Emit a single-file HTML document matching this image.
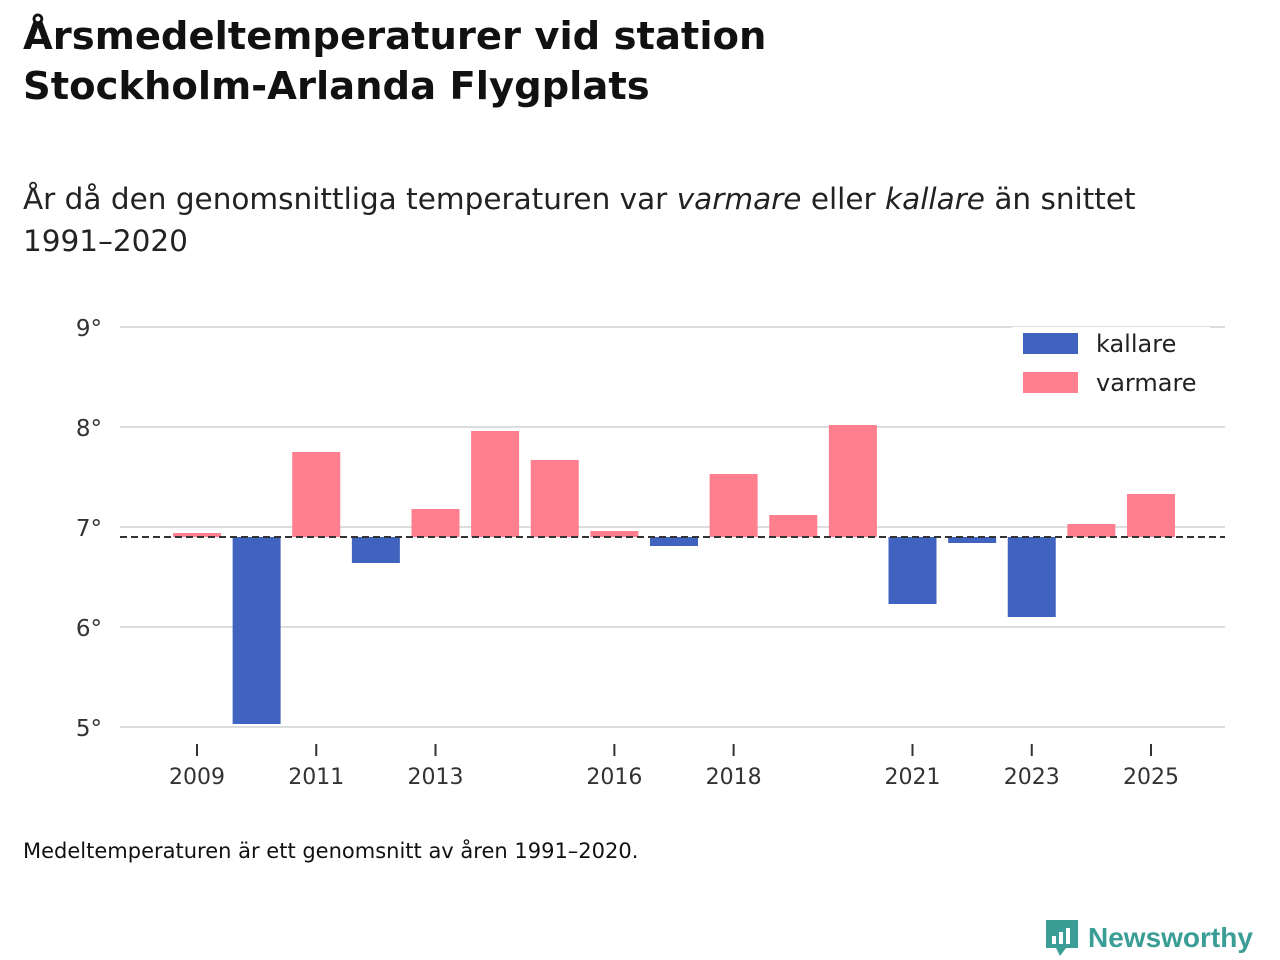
<!DOCTYPE html>
<html><head><meta charset="utf-8"><style>
body{margin:0;width:1280px;height:960px;background:#fff;font-family:"DejaVu Sans","Liberation Sans",sans-serif;color:#111;position:relative;overflow:hidden}
h1{position:absolute;left:23px;top:12px;margin:0;font-size:38.5px;line-height:50px;font-weight:bold;color:#111}
.sub{position:absolute;left:23px;top:178px;font-size:29.5px;line-height:42px;color:#222}
.note{position:absolute;left:23px;top:839px;font-size:21px;color:#111}
.logo{position:absolute;left:1044px;top:918px;display:flex;align-items:center;gap:8px;color:#3a9e96;font-weight:bold;font-size:26px;font-family:"Liberation Sans",sans-serif}
svg text{font-family:"DejaVu Sans","Liberation Sans",sans-serif}
</style></head><body>
<h1>Årsmedeltemperaturer vid station<br>Stockholm-Arlanda Flygplats</h1>
<div class="sub">År då den genomsnittliga temperaturen var <i>varmare</i> eller <i>kallare</i> än snittet<br>1991–2020</div>
<svg id="chart" width="1280" height="960" style="position:absolute;left:0;top:0"></svg>
<div class="note">Medeltemperaturen är ett genomsnitt av åren 1991–2020.</div>
<div class="logo">
<svg width="36" height="40" viewBox="0 0 36 40"><path d="M2 2h32v28H22l-6 8-4-8H2z" fill="#3a9e96"/><rect x="8" y="18" width="4" height="8" fill="#fff"/><rect x="15" y="14" width="4" height="12" fill="#fff"/><rect x="22" y="10" width="4" height="16" fill="#fff"/></svg>
<span style="font-size:28px">Newsworthy</span></div>
<script>
const years=[2009,2010,2011,2012,2013,2014,2015,2016,2017,2018,2019,2020,2021,2022,2023,2024,2025];
const temps=[6.94,5.03,7.75,6.64,7.18,7.96,7.67,6.96,6.81,7.53,7.12,8.02,6.23,6.84,6.10,7.03,7.33];
const baseline=6.9;
const yTicks=[5,6,7,8,9];
const xTicks=[2009,2011,2013,2016,2018,2021,2023,2025];
const ns="http://www.w3.org/2000/svg";
const svg=document.getElementById('chart');
const y=v=>727-(v-5)*100;
const x=yr=>197+(yr-2009)*59.625;
function mk(t,a,p){const e=document.createElementNS(ns,t);for(const k in a)e.setAttribute(k,a[k]);(p||svg).appendChild(e);return e;}
yTicks.forEach(v=>{
 const l=mk('line',{x1:120,x2:1225,y1:y(v),y2:y(v),stroke:'#ddd','stroke-width':2});
 
 
 const t=mk('text',{x:102,y:y(v)+9,'text-anchor':'end','font-size':23,fill:'#333'});t.textContent=v+'°';
 
 
});
years.forEach((yr,i)=>{
 const v=temps[i],top=Math.min(y(v),y(baseline)),h=Math.abs(y(v)-y(baseline));
 const r=mk('rect',{x:x(yr)-24,y:top,width:48,height:h,fill:v<baseline?'#4063bf':'#ff7f8e'});
 
 
});
const bl=mk('line',{x1:120,x2:1225,y1:y(baseline),y2:y(baseline),stroke:'#333','stroke-width':2,'stroke-dasharray':'7,4'});


xTicks.forEach(yr=>{
 const l=mk('line',{x1:x(yr),x2:x(yr),y1:744,y2:756,stroke:'#333','stroke-width':2});
 
 
 const t=mk('text',{x:x(yr),y:784,'text-anchor':'middle','font-size':22,fill:'#333'});t.textContent=yr;
 
 
});
const lg=mk('rect',{x:1012,y:327,width:198,height:76,fill:'#fff'});


[['kallare','#4063bf',333],['varmare','#ff7f8e',372]].forEach(([n,c,yy])=>{
 const r=mk('rect',{x:1023,y:yy,width:55,height:21,fill:c});
 
 
 const t=mk('text',{x:1096,y:yy+19,'font-size':24,fill:'#222'});t.textContent=n;
 
 
});
</script>
</body></html>
